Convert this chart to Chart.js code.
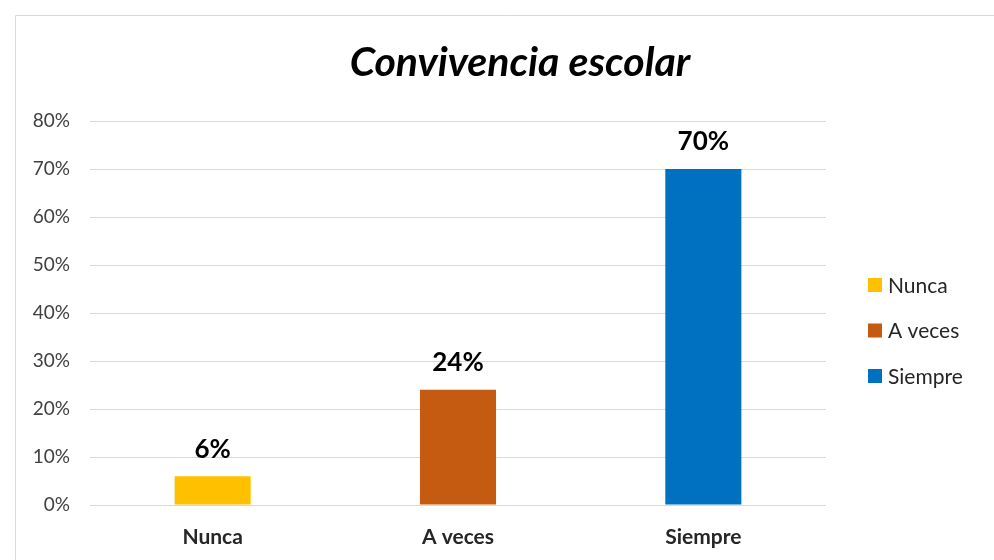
<!DOCTYPE html>
<html>
<head>
<meta charset="utf-8">
<script src="https://cdn.jsdelivr.net/npm/chart.js@4"></script>
<style>
  html, body { margin: 0; background: #fff; }
</style>
</head>
<body>
<canvas id="chart" width="994" height="560"></canvas>
<script>
const categories = ['Nunca', 'A veces', 'Siempre']
const values = [6, 24, 70]
const colors = ['#FFC000', '#C55A11', '#0070C0']
const title = 'Convivencia escolar'

const FONT = 'Lato, "Open Sans", sans-serif'

// light frame around the chart, as in the exported picture
const frame = {
  id: 'frame',
  beforeDraw(chart) {
    const ctx = chart.ctx
    ctx.save()
    ctx.strokeStyle = '#d9d9d9'
    ctx.lineWidth = 1
    ctx.beginPath()
    ctx.moveTo(15.5, chart.height)
    ctx.lineTo(15.5, 15.5)
    ctx.lineTo(chart.width, 15.5)
    ctx.stroke()
    ctx.restore()
  },
}

// title centred on the whole frame, not only the plot
const topTitle = {
  id: 'topTitle',
  afterDraw(chart) {
    const ctx = chart.ctx
    ctx.save()
    ctx.font = `italic bold 41px ${FONT}`
    ctx.fillStyle = '#000'
    ctx.textAlign = 'center'
    ctx.textBaseline = 'middle'
    ctx.fillText(title, 520, 63)
    ctx.restore()
  },
}

// value labels above each bar
const barLabels = {
  id: 'barLabels',
  afterDatasetsDraw(chart) {
    const ctx = chart.ctx
    const meta = chart.getDatasetMeta(0)
    ctx.save()
    ctx.font = `bold 26px ${FONT}`
    ctx.fillStyle = '#000'
    ctx.textAlign = 'center'
    ctx.textBaseline = 'bottom'
    meta.data.forEach((bar, i) => {
      ctx.fillText(values[i] + '%', bar.x, bar.y - 14)
    })
    ctx.restore()
  },
}

// legend on the right, one entry per category
const sideLegend = {
  id: 'sideLegend',
  afterDraw(chart) {
    const ctx = chart.ctx
    ctx.save()
    ctx.font = `21px ${FONT}`
    ctx.textBaseline = 'middle'
    categories.forEach((name, i) => {
      const y = 285 + i * 45.5
      ctx.fillStyle = colors[i]
      ctx.fillRect(868, y - 7, 14, 14)
      ctx.fillStyle = '#262626'
      ctx.fillText(name, 888, y + 1)
    })
    ctx.restore()
  },
}

new Chart(document.getElementById('chart'), {
  type: 'bar',
  data: {
    labels: categories,
    datasets: [{
      label: title,
      data: values,
      backgroundColor: colors,
      categoryPercentage: 1,
      barPercentage: 0.31,
    }],
  },
  options: {
    responsive: false,
    devicePixelRatio: 1,
    animation: false,
    layout: { padding: { top: 121, right: 168, bottom: 0, left: 0 } },
    scales: {
      x: {
        grid: { display: false, drawTicks: false },
        border: { display: false },
        ticks: { padding: 20, color: '#262626', font: { family: FONT, size: 21, weight: 'bold' } },
        afterFit: s => { s.height = 55 },
      },
      y: {
        min: 0,
        max: 80,
        grid: { color: '#d9d9d9', lineWidth: 1, drawTicks: false },
        border: { display: false },
        ticks: {
          stepSize: 10,
          padding: 20,
          color: '#404040',
          font: { family: FONT, size: 19 },
          callback: v => v + '%',
        },
        afterFit: s => { s.width = 90 },
      },
    },
    plugins: {
      legend: { display: false },
      tooltip: { enabled: false },
      title: { display: false },
    },
  },
  plugins: [frame, topTitle, barLabels, sideLegend],
})
</script>
</body>
</html>
